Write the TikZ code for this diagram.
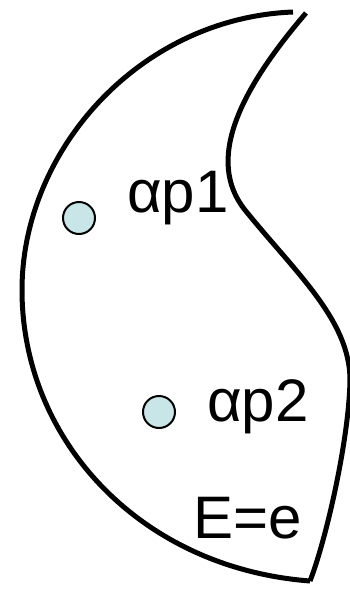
\documentclass[tikz,border=0pt]{standalone}
\usepackage{fontspec}
\setmainfont{Liberation Sans}
\usepackage{tikz}
\usetikzlibrary{positioning}
\definecolor{dotblue}{HTML}{C8E6E8}
\tikzset{
  outline/.style={line width=5pt, line join=miter},
  dot/.style={circle, draw=black, line width=2pt, fill=dotblue, minimum size=32pt, inner sep=0pt},
  lbl/.style={anchor=base west, inner sep=0pt, font=\fontsize{60}{66}\selectfont}
}
\begin{document}
\begin{tikzpicture}[x=1pt, y=-1pt]
    \useasboundingbox (0,0) rectangle (350,590);

    % Puntos
    \node (ap1dot) [dot] at (79,218) {};
    \node (ap2dot) [dot] at (159,412) {};

    % Etiquetas
    \node (ap1) [lbl] at (127,212) {αp1};
    \node (ap2) [lbl] at (207,421) {αp2};
    \node (ev) [lbl] at (193,538) {E=e};

    % Contorno
    \coordinate (top1) at (293,12);
    \coordinate (top2) at (306,13);
    \coordinate (bot) at (310,581);
    \draw [outline] (top1) .. controls (140,18) and (22,150) .. (22,290)
        .. controls (22,440) and (140,568) .. (bot);
    \draw [outline] (top2) .. controls (240,90) and (205,160) .. (245,210)
        .. controls (295,272) and (350,320) .. (350,380)
        .. controls (349,440) and (326,540) .. (bot);
\end{tikzpicture}
\end{document}
